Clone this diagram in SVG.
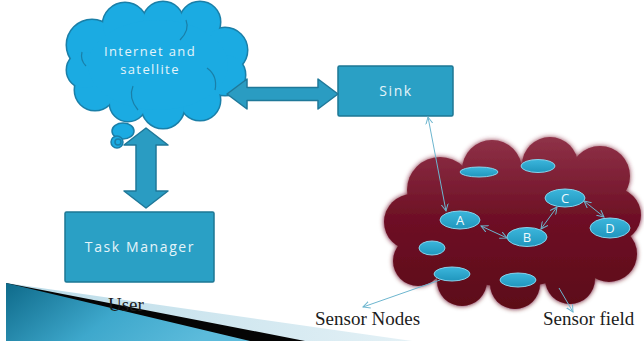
<svg xmlns="http://www.w3.org/2000/svg" width="644" height="344" viewBox="0 0 644 344">
  <defs>
    <style>
      .box { fill: #2aa0c5; stroke: #1d7794; stroke-width: 1.5; }
      .bigarrow { fill: #2a9cc2; stroke: #1f7899; stroke-width: 1.5; stroke-linejoin: round; }
      .lbl { font-family: "Open Sans", "DejaVu Sans", sans-serif; font-size: 14px; fill: #e4f4fa; letter-spacing: 1.6px; text-anchor: middle; }
      .cloudLbl { font-size: 13px; letter-spacing: 1.4px; }
      .nodeLbl { font-family: "Open Sans", "DejaVu Sans", sans-serif; font-size: 13px; fill: #eef8fc; text-anchor: middle; }
      .serif { font-family: "Liberation Serif", "Times New Roman", serif; font-size: 19px; fill: #1c1c1c; }
      .link { fill: none; stroke: #6db6cf; stroke-width: 1; marker-start: url(#tip); marker-end: url(#tip); }
      .pointer { fill: none; stroke: #6db6cf; stroke-width: 1; marker-end: url(#tip); }
      .sensor { fill: url(#sensorFill); stroke: #86d3ec; stroke-width: 1; }
      .skyLobe { fill: #1babe2; }
      .skyEdge { fill: #1babe2; stroke: #1a7fa8; stroke-width: 3; }
      .fieldLobe { fill: url(#fieldFill); }
    </style>
    <marker id="tip" viewBox="0 0 8 8" refX="7" refY="4" markerWidth="8" markerHeight="8" markerUnits="userSpaceOnUse" orient="auto-start-reverse">
      <path d="M0,0.5 L7,4 L0,7.5" fill="none" stroke="#6db6cf" stroke-width="1"/>
    </marker>
    <linearGradient id="fieldFill" gradientUnits="userSpaceOnUse" x1="0" y1="137" x2="0" y2="310">
      <stop offset="0" stop-color="#8f3248"/>
      <stop offset="0.45" stop-color="#6f1126"/>
      <stop offset="1" stop-color="#5c0718"/>
    </linearGradient>
    <linearGradient id="sensorFill" x1="0" y1="0" x2="0" y2="1">
      <stop offset="0" stop-color="#3cb6dc"/>
      <stop offset="1" stop-color="#2096bd"/>
    </linearGradient>
    <linearGradient id="wedgeFill" x1="0" y1="0" x2="1" y2="0.3">
      <stop offset="0" stop-color="#0e6a8a"/>
      <stop offset="0.55" stop-color="#3ea8cc"/>
      <stop offset="1" stop-color="#5cbbdb"/>
    </linearGradient>
    <linearGradient id="stripFill" x1="0" y1="0" x2="1" y2="0">
      <stop offset="0" stop-color="#b9dbe8"/>
      <stop offset="1" stop-color="#e4f1f6"/>
    </linearGradient>
    <filter id="glow" x="-10%" y="-10%" width="120%" height="120%">
      <feGaussianBlur in="SourceGraphic" stdDeviation="2.5" result="soft"/>
      <feMerge>
        <feMergeNode in="soft"/>
        <feMergeNode in="SourceGraphic"/>
      </feMerge>
    </filter>
  </defs>

  <rect width="644" height="344" fill="#ffffff"/>

  <!-- decorative corner wedge -->
  <g id="corner-wedge">
    <polygon points="6,283 412,341 6,341" fill="url(#stripFill)"/>
    <polygon points="6,283 305,341 6,341" fill="#050505"/>
    <polygon points="6,283 250,341 6,341" fill="url(#wedgeFill)"/>
  </g>

  <!-- sensor field cloud -->
  <g id="sensor-field" filter="url(#glow)">
    <g class="fieldLobe">
      <circle cx="440" cy="190" r="33"/>
      <circle cx="492" cy="170" r="30"/>
      <circle cx="550" cy="165" r="28"/>
      <circle cx="600" cy="176" r="30"/>
      <circle cx="614" cy="215" r="27"/>
      <circle cx="609" cy="254" r="28"/>
      <circle cx="570" cy="279" r="25"/>
      <circle cx="515" cy="284" r="25"/>
      <circle cx="462" cy="281" r="25"/>
      <circle cx="418" cy="261" r="25"/>
      <circle cx="412" cy="222" r="28"/>
      <ellipse cx="512" cy="225" rx="100" ry="62"/>
    </g>
  </g>

  <!-- internet and satellite cloud -->
  <g id="internet-cloud">
    <g class="skyEdge">
      <circle cx="92" cy="45" r="25"/>
      <circle cx="125" cy="25" r="22"/>
      <circle cx="163" cy="22" r="20"/>
      <circle cx="200" cy="22" r="20"/>
      <circle cx="225" cy="50" r="22"/>
      <circle cx="225" cy="75" r="20"/>
      <circle cx="200" cy="100" r="20"/>
      <circle cx="163" cy="107" r="21"/>
      <circle cx="128" cy="103" r="18"/>
      <circle cx="95" cy="90" r="20"/>
      <circle cx="85" cy="70" r="18"/>
    </g>
    <g class="skyLobe">
      <circle cx="92" cy="45" r="25"/>
      <circle cx="125" cy="25" r="22"/>
      <circle cx="163" cy="22" r="20"/>
      <circle cx="200" cy="22" r="20"/>
      <circle cx="225" cy="50" r="22"/>
      <circle cx="225" cy="75" r="20"/>
      <circle cx="200" cy="100" r="20"/>
      <circle cx="163" cy="107" r="21"/>
      <circle cx="128" cy="103" r="18"/>
      <circle cx="95" cy="90" r="20"/>
      <circle cx="85" cy="70" r="18"/>
      <ellipse cx="158" cy="65" rx="70" ry="45"/>
    </g>
    <g fill="none" stroke="#1a7fa8" stroke-width="1.2">
      <path d="M207,68 Q218,76 215,90"/>
      <path d="M133,86 Q128,98 138,110"/>
      <path d="M82,52 Q80,60 86,66"/>
      <path d="M180,40 Q190,30 186,20"/>
    </g>
    <g fill="#1babe2" stroke="#1a7fa8" stroke-width="1.5">
      <ellipse cx="123" cy="131" rx="11" ry="8"/>
      <circle cx="117" cy="142" r="6"/>
      <circle cx="118" cy="142" r="3" fill="none"/>
    </g>
    <text class="lbl cloudLbl" x="150" y="56">Internet and</text>
    <text class="lbl cloudLbl" x="150" y="74">satellite</text>
  </g>

  <!-- sink -->
  <g id="sink">
    <rect class="box" x="338" y="66" width="115" height="50" rx="1.5"/>
    <text class="lbl" x="396" y="96">Sink</text>
  </g>

  <!-- task manager -->
  <g id="task-manager">
    <rect class="box" x="65" y="212" width="149" height="70" rx="1.5"/>
    <text class="lbl" x="140" y="252">Task Manager</text>
  </g>

  <!-- sensor nodes -->
  <g id="node-a"><ellipse class="sensor" cx="460" cy="220" rx="20" ry="9"/><text class="nodeLbl" x="460" y="225">A</text></g>
  <g id="node-b"><ellipse class="sensor" cx="527" cy="237" rx="20" ry="9.5"/><text class="nodeLbl" x="527" y="242">B</text></g>
  <g id="node-c"><ellipse class="sensor" cx="565" cy="198" rx="20" ry="9"/><text class="nodeLbl" x="565" y="203">C</text></g>
  <g id="node-d"><ellipse class="sensor" cx="610" cy="228" rx="20" ry="10"/><text class="nodeLbl" x="610" y="233">D</text></g>
  <g id="node-idle-1"><ellipse class="sensor" cx="479" cy="172" rx="19" ry="5"/></g>
  <g id="node-idle-2"><ellipse class="sensor" cx="538" cy="166" rx="17" ry="6.5"/></g>
  <g id="node-idle-3"><ellipse class="sensor" cx="432" cy="248" rx="13" ry="7"/></g>
  <g id="node-idle-4"><ellipse class="sensor" cx="452" cy="274" rx="18" ry="7"/></g>
  <g id="node-idle-5"><ellipse class="sensor" cx="518" cy="280" rx="18" ry="7"/></g>

  <!-- connectors -->
  <g id="connectors">
    <polygon class="bigarrow" points="146,128 168,145 156,145 156,191 168,191 146,208 124,191 136,191 136,145 124,145"/>
    <polygon class="bigarrow" points="227,94 247,79 247,87.5 318,87.5 318,79 338,94 318,109 318,100.5 247,100.5 247,109"/>
    <line class="link" x1="428" y1="117" x2="446" y2="211"/>
    <line class="link" x1="481" y1="226" x2="507" y2="238"/>
    <line class="link" x1="541" y1="229" x2="557" y2="207"/>
    <line class="link" x1="584" y1="201" x2="604" y2="217"/>
    <line class="pointer" x1="440" y1="280" x2="363" y2="307"/>
    <line class="pointer" x1="559" y1="288" x2="573" y2="312"/>
  </g>

  <!-- captions -->
  <text class="serif" x="108" y="311">User</text>
  <text class="serif" x="315" y="325">Sensor Nodes</text>
  <text class="serif" x="543" y="325">Sensor field</text>
</svg>
